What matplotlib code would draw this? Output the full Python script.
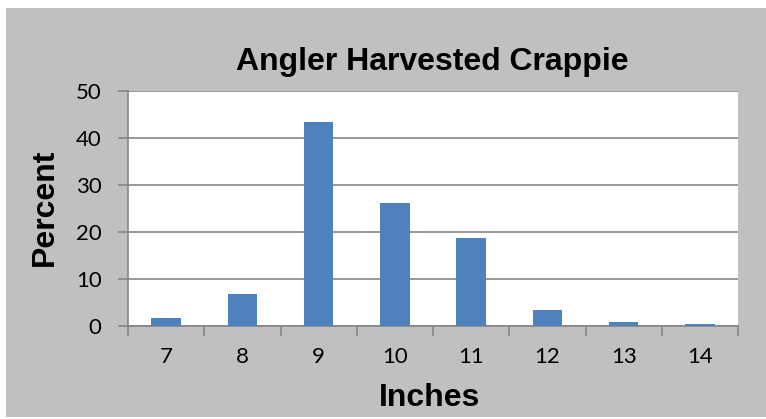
# 导入画图和数据处理的包
import numpy as np
import matplotlib.pyplot as plt
from matplotlib.patches import Rectangle

# 数据
inches = ['7', '8', '9', '10', '11', '12', '13', '14']
percent = [1.6, 6.7, 43.3, 26.1, 18.6, 3.3, 0.8, 0.4]
y_ticks = [0, 10, 20, 30, 40, 50]

bar_color = '#4F81BD'
grid_color = '#868686'
bg_color = '#C0C0C0'

# =====创建画布=====
fig = plt.figure(figsize=(7.66, 4.19), dpi=100)
fig.patch.set_facecolor('white')
# 灰色的图表区域
fig.patches.append(Rectangle((6/766, 2/419), 760/766, 409/419, transform=fig.transFigure,
                             facecolor=bg_color, edgecolor='none', zorder=-5))

ax = fig.add_axes([128/766, 1-325.7/419, 610/766, 234.7/419])
ax.set_zorder(2)
ax.set_facecolor('white')
for line in ['right', 'top']:
    ax.spines[line].set_visible(False)
for line in ['left', 'bottom']:
    ax.spines[line].set_color(grid_color)
    ax.spines[line].set_linewidth(1.2)

# 绘制柱状图
x = np.arange(len(inches))
ax.bar(x, percent, width=0.39, color=bar_color, zorder=3)

ax.set_xlim(-0.5, len(inches)-0.5)
ax.set_ylim(0, 50)

# 横刻度：标签在柱子中间，刻度线在分隔处
ax.set_xticks(x)
ax.set_xticklabels(inches, fontsize=16, family='Lato')
ax.set_xticks(np.arange(len(inches)+1)-0.5, minor=True)
ax.tick_params(axis='x', which='major', length=0, pad=15)
ax.tick_params(axis='x', which='minor', length=7, width=1.2, color=grid_color)

# 纵刻度
ax.set_yticks(y_ticks)
ax.set_yticklabels([str(v) for v in y_ticks], fontsize=16, family='Lato')
ax.tick_params(axis='y', length=7, width=1.2, color=grid_color, pad=12)

# 网格线
ax.yaxis.grid(True, color=grid_color, linewidth=1.2, zorder=1)
ax.set_axisbelow(True)

# 标题和坐标轴标签
fig.text(432/766, 1-62/419, 'Angler Harvested Crappie', ha='center', va='center',
         fontsize=23, fontweight='bold', family='Liberation Sans')
fig.text(45/766, 1-207/419, 'Percent', ha='center', va='center', rotation=90,
         fontsize=23, fontweight='bold', family='Liberation Sans')
fig.text(430/766, 1-398/419, 'Inches', ha='center', va='center',
         fontsize=23, fontweight='bold', family='Liberation Sans')

fig.savefig('out.png', dpi=100, facecolor='white')
